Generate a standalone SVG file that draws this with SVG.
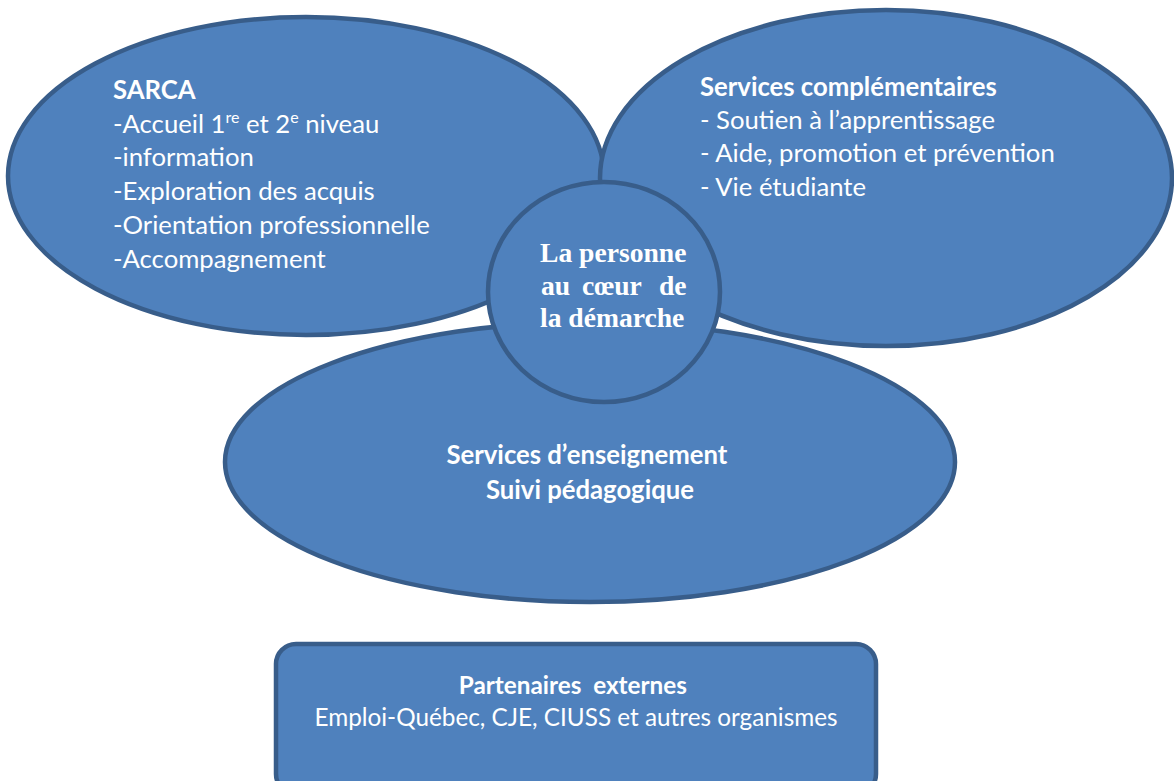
<svg xmlns="http://www.w3.org/2000/svg" width="1174" height="781" viewBox="0 0 1174 781">
<style>
.shape{fill:#4F81BD;stroke:#385D8A;stroke-width:4.5}
.t{font-family:Lato,"Open Sans","Liberation Sans",sans-serif;fill:#ffffff;font-size:25.7px}
.bx{font-size:24.3px}
.b{font-weight:bold}
.serif{font-family:"Liberation Serif","Times New Roman",serif;font-weight:bold;fill:#ffffff;font-size:27.6px}
.sup{font-size:16px}
</style>
<rect width="1174" height="781" fill="#ffffff"/>
<g id="connectors"></g>
<g id="sarca">
<ellipse class="shape" cx="306" cy="176" rx="298" ry="159"/>
<text class="t" x="113">
<tspan class="b" x="113" y="99">SARCA</tspan>
<tspan x="113" y="133">-Accueil 1<tspan class="sup" dy="-10">re</tspan><tspan dy="10"> et 2</tspan><tspan class="sup" dy="-10">e</tspan><tspan dy="10"> niveau</tspan></tspan>
<tspan x="113" y="166">-information</tspan>
<tspan x="113" y="200">-Exploration des acquis</tspan>
<tspan x="113" y="234">-Orientation professionnelle</tspan>
<tspan x="113" y="268">-Accompagnement</tspan>
</text>
</g>
<g id="services-complementaires">
<ellipse class="shape" cx="886" cy="178" rx="286" ry="168"/>
<text class="t">
<tspan class="b" x="700" y="96">Services complémentaires</tspan>
<tspan x="700" y="129">- Soutien à l’apprentissage</tspan>
<tspan x="700" y="162">- Aide, promotion et prévention</tspan>
<tspan x="700" y="196">- Vie étudiante</tspan>
</text>
</g>
<g id="services-enseignement">
<ellipse class="shape" cx="590" cy="462" rx="365" ry="140"/>
<text class="t b" text-anchor="middle">
<tspan x="590" y="464">Services d’enseignement</tspan>
<tspan x="590" y="499">Suivi pédagogique</tspan>
</text>
</g>
<g id="personne">
<ellipse class="shape" cx="604" cy="292" rx="116" ry="110"/>
<text class="serif">
<tspan x="540" y="262">La personne</tspan>
<tspan x="541" y="295">au</tspan><tspan x="582" y="295">cœur</tspan><tspan x="659" y="295">de</tspan>
<tspan x="540" y="327">la démarche</tspan>
</text>
</g>
<g id="partenaires">
<rect class="shape" x="276" y="644" width="600" height="150" rx="20" ry="20"/>
<text class="t bx" text-anchor="middle">
<tspan class="b" x="576" y="694">Partenaires&#160; externes</tspan>
<tspan x="576" y="726">Emploi-Québec, CJE, CIUSS et autres organismes</tspan>
</text>
</g>
</svg>
